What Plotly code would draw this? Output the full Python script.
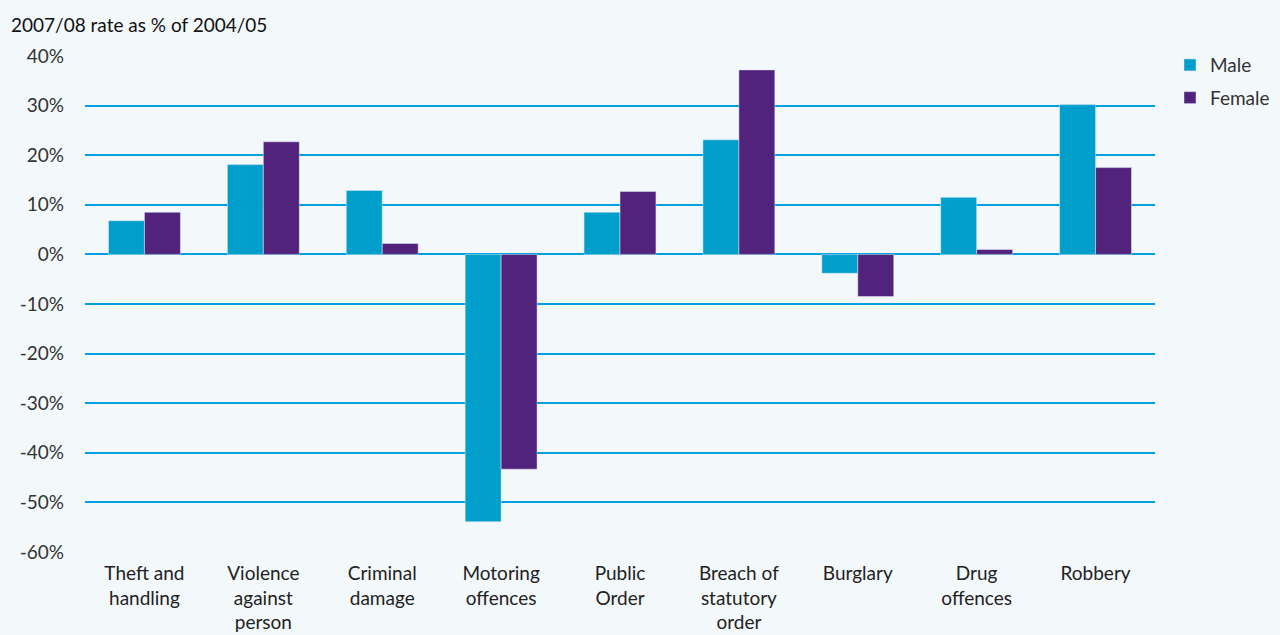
import plotly.graph_objects as go

# Offence categories (x axis), <br> used for line wrapping
categories = [
    "Theft and<br>handling",
    "Violence<br>against<br>person",
    "Criminal<br>damage",
    "Motoring<br>offences",
    "Public<br>Order",
    "Breach of<br>statutory<br>order",
    "Burglary",
    "Drug<br>offences",
    "Robbery",
]

# 2007/08 rate as % of 2004/05
male = [6.8, 18.1, 12.9, -53.9, 8.5, 23.1, -3.8, 11.5, 30.2]
female = [8.5, 22.7, 2.2, -43.3, 12.7, 37.2, -8.5, 1.0, 17.5]

tick_vals = [40, 30, 20, 10, 0, -10, -20, -30, -40, -50, -60]
tick_text = [f"{v}%" for v in tick_vals]

fig = go.Figure()
fig.add_trace(go.Bar(x=categories, y=male, name="Male", legendgroup="m",
                     marker_color="#009FCB"))
fig.add_trace(go.Bar(x=categories, y=female, name="Female", legendgroup="f",
                     marker_color="#52237C"))

fig.update_layout(
    width=1280,
    height=635,
    barmode="group",
    bargap=0.395,
    bargroupgap=0,
    paper_bgcolor="#F3F8FB",
    plot_bgcolor="#F3F8FB",
    font=dict(family="Lato, Open Sans, sans-serif", size=19, color="#222222"),
    margin=dict(l=85, r=125, t=56, b=83, autoexpand=False),
    showlegend=True,
    legend=dict(
        x=1.014, y=1.02, xanchor="left", yanchor="top",
        traceorder="grouped", tracegroupgap=5, itemwidth=30,
        bgcolor="rgba(0,0,0,0)", font=dict(size=19, color="#333333"),
    ),
    annotations=[
        dict(
            text="2007/08 rate as % of 2004/05",
            xref="paper", yref="paper", x=-0.071, y=1.0645,
            xanchor="left", yanchor="middle", showarrow=False,
            font=dict(size=19, color="#111111"),
        )
    ],
)

fig.update_yaxes(
    range=[-60, 40],
    tickvals=tick_vals,
    ticktext=tick_text,
    showgrid=True,
    gridcolor="#00A0E0",
    gridwidth=2,
    zeroline=True,
    zerolinecolor="#00A0E0",
    zerolinewidth=2,
    ticks="",
    ticklabelstandoff=20,
    automargin=False,
    tickfont=dict(color="#333333"),
)
fig.update_xaxes(
    showgrid=False,
    ticks="",
    tickangle=0,
    ticklabelstandoff=8,
    automargin=False,
    tickfont=dict(color="#222222"),
)

# drop the default page margin so the figure fills the window
fig.write_html("out.html", config={"displayModeBar": False},
               post_script="document.body.style.margin='0';")
